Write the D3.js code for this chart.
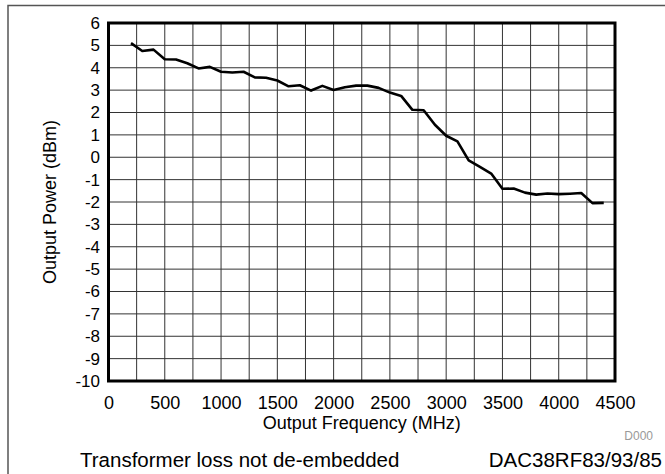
<!DOCTYPE html>
<html>
<head>
<meta charset="utf-8">
<script src="https://cdn.jsdelivr.net/npm/d3@7"></script>
<style>
  html, body { margin: 0; padding: 0; background: #fff; }
  svg { display: block; font-family: "Liberation Sans", Arial, sans-serif; }
</style>
</head>
<body>
<svg id="chart" width="665" height="474"></svg>
<script>
// Output power versus output frequency
const freqMHz = [200, 300, 400, 500, 600, 700, 800, 900, 1000, 1100, 1200, 1300, 1400, 1500,
  1600, 1700, 1800, 1900, 2000, 2100, 2200, 2300, 2400, 2500, 2600, 2700, 2800, 2900, 3000,
  3100, 3200, 3300, 3400, 3500, 3600, 3700, 3800, 3900, 4000, 4100, 4200, 4300, 4400];
const powerDBm = [5.10, 4.75, 4.81, 4.38, 4.37, 4.20, 3.97, 4.04, 3.82, 3.79, 3.82, 3.57, 3.55, 3.43,
  3.17, 3.22, 2.98, 3.19, 3.01, 3.13, 3.20, 3.20, 3.10, 2.89, 2.74, 2.12, 2.10, 1.45, 0.96,
  0.71, -0.14, -0.43, -0.73, -1.41, -1.40, -1.58, -1.67, -1.62, -1.65, -1.63, -1.60, -2.05, -2.04];
const xTicks = [0, 500, 1000, 1500, 2000, 2500, 3000, 3500, 4000, 4500];
const xGrid = d3.range(0, 4501, 250);
const yTicks = d3.range(-10, 7, 1);

const svg = d3.select("#chart");
const plot = { left: 108.5, right: 615, top: 23, bottom: 381 };

const x = d3.scaleLinear().domain([0, 4500]).range([plot.left, plot.right]);
const y = d3.scaleLinear().domain([-10, 6]).range([plot.bottom, plot.top]);

// plain hyphen-minus for negative labels
const fmt = d => String(d);

// outer frame (top and left edges)
svg.append("path")
  .attr("d", "M8,474 V5.5 H665")
  .attr("fill", "none").attr("stroke", "#555").attr("stroke-width", 1.5);

// grid
const grid = svg.append("g").attr("stroke", "#333").attr("stroke-width", 1);
grid.selectAll("line.v").data(xGrid).join("line")
  .attr("x1", d => x(d)).attr("x2", d => x(d))
  .attr("y1", plot.top).attr("y2", plot.bottom);
grid.selectAll("line.h").data(yTicks).join("line")
  .attr("x1", plot.left).attr("x2", plot.right)
  .attr("y1", d => y(d)).attr("y2", d => y(d));

// tick labels via d3 axes (domain and tick lines hidden)
const xAxis = svg.append("g")
  .attr("transform", `translate(0,${plot.bottom})`)
  .call(d3.axisBottom(x).tickValues(xTicks).tickSize(0).tickPadding(15).tickFormat(fmt));
const yAxis = svg.append("g")
  .attr("transform", `translate(${plot.left},0)`)
  .call(d3.axisLeft(y).tickValues(yTicks).tickSize(0).tickPadding(8.5).tickFormat(fmt));
[xAxis, yAxis].forEach(a => {
  a.select(".domain").remove();
  a.selectAll("text").attr("fill", "#000")
    .style("font-family", "'Liberation Sans', Arial, sans-serif");
});
xAxis.selectAll("text").style("font-size", "18px");
yAxis.selectAll("text").style("font-size", "17px");

// plot border
svg.append("rect")
  .attr("x", plot.left).attr("y", plot.top)
  .attr("width", plot.right - plot.left).attr("height", plot.bottom - plot.top)
  .attr("fill", "none").attr("stroke", "#000").attr("stroke-width", 3);

// data line
const line = d3.line().x((d, i) => x(freqMHz[i])).y(d => y(d));
svg.append("path")
  .datum(powerDBm)
  .attr("d", line)
  .attr("fill", "none").attr("stroke", "#000").attr("stroke-width", 2.6)
  .attr("stroke-linejoin", "round");

// titles
svg.append("text")
  .attr("x", (plot.left + plot.right) / 2).attr("y", 429)
  .attr("text-anchor", "middle").style("font-size", "18px")
  .text("Output Frequency (MHz)");
svg.append("text")
  .attr("transform", `translate(56,${(plot.top + plot.bottom) / 2}) rotate(-90)`)
  .attr("text-anchor", "middle").style("font-size", "18px")
  .text("Output Power (dBm)");
svg.append("text")
  .attr("x", 653).attr("y", 440)
  .attr("text-anchor", "end").attr("fill", "#999").style("font-size", "12px")
  .text("D000");
svg.append("text")
  .attr("x", 80).attr("y", 467)
  .style("font-size", "20.5px")
  .text("Transformer loss not de-embedded");
svg.append("text")
  .attr("x", 662).attr("y", 467)
  .attr("text-anchor", "end").style("font-size", "20.5px")
  .text("DAC38RF83/93/85");
</script>
</body>
</html>
